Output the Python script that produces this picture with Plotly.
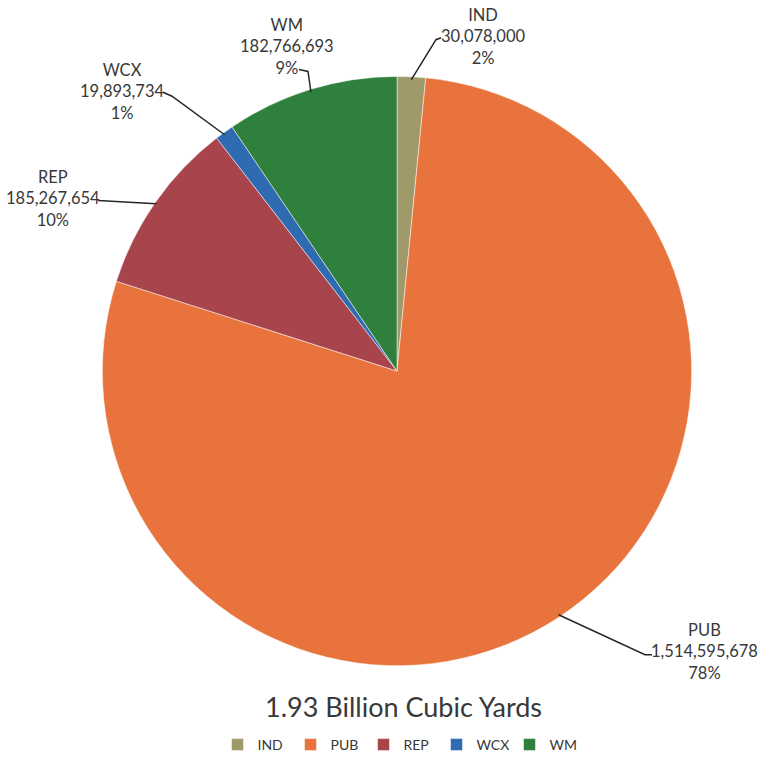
import math
import plotly.graph_objects as go

categories = ["IND", "PUB", "REP", "WCX", "WM"]
values = [30078000, 1514595678, 185267654, 19893734, 182766693]
colors = ["#A09A6A", "#E8733C", "#A8444C", "#2F6BB0", "#2F7F3D"]
title_text = "1.93 Billion Cubic Yards"

W, H = 759, 761
cx, cy, R = 397, 374, 297  # pie placement in pixels

# label block centres (pixels, centre of middle line) and connector points near labels
label_pos = {"IND": (483, 37), "PUB": (704, 657), "REP": (53, 200), "WCX": (122, 92), "WM": (287, 47)}
elbow = {
    "IND": [(436, 40), (441, 38)],
    "PUB": [(645, 660), (652, 660)],
    "REP": [(98, 202)],
    "WCX": [(172, 97), (163, 93)],
    "WM": [(308, 72), (299, 70)],
}
FONT = "Lato, Open Sans, sans-serif"
TXT = "#383838"

def px(x):
    return x / W

def py(y):
    return 1 - y / H

fig = go.Figure(go.Pie(
    labels=categories, values=values, sort=False, direction="clockwise",
    rotation=0, textinfo="none", hoverinfo="label+value+percent",
    marker=dict(colors=colors, line=dict(color="white", width=0.5)),
    domain=dict(x=[px(cx - R), px(cx + R)], y=[py(cy + R), py(cy - R)]),
))

total = sum(values)
cum = 0
annotations = []
shapes = []
Rl = R - 3
for cat, v in zip(categories, values):
    mid = (cum + v / 2) / total * 2 * math.pi
    cum += v
    ex = cx + Rl * math.sin(mid)
    ey = cy - Rl * math.cos(mid)
    pts = [(ex, ey)] + elbow[cat]
    path = "M " + " L ".join(f"{px(a):.5f},{py(b):.5f}" for a, b in pts)
    shapes.append(dict(type="path", path=path, xref="paper", yref="paper",
                       line=dict(color="#262626", width=1.5)))
    pct = round(v / total * 100)
    lx, ly = label_pos[cat]
    annotations.append(dict(
        x=px(lx), y=py(ly), xref="paper", yref="paper", showarrow=False,
        xanchor="center", yanchor="middle",
        text=f"{cat}<br>{v:,}<br>{pct}%", align="center",
        font=dict(family=FONT, size=16.5, color=TXT),
    ))

annotations.append(dict(
    x=px(403), y=py(712), xref="paper", yref="paper", showarrow=False,
    xanchor="center", yanchor="middle",
    text=title_text, font=dict(family=FONT, size=27, color=TXT),
))

fig.update_layout(
    width=W, height=H, margin=dict(l=0, r=0, t=0, b=0),
    paper_bgcolor="white", plot_bgcolor="white",
    annotations=annotations, shapes=shapes,
    showlegend=True,
    legend=dict(orientation="h", x=px(400), xanchor="center", y=py(751), yanchor="middle",
                font=dict(family=FONT, size=14, color=TXT),
                itemwidth=30, entrywidth=28, entrywidthmode="pixels", traceorder="normal"),
)

fig.write_html("out.html")
